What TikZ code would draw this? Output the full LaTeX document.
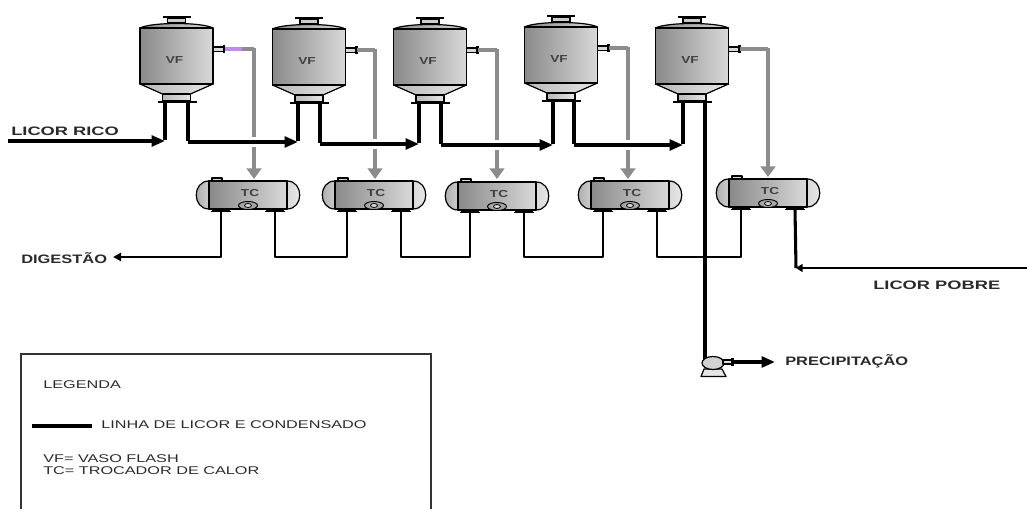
\documentclass[tikz,border=0pt]{standalone}
\usepackage{fontspec}
\setmainfont{Liberation Sans}
\newfontfamily\widebold[FakeStretch=1.34]{Liberation Sans Bold}
\newfontfamily\widerbold[FakeStretch=1.49]{Liberation Sans Bold}
\newfontfamily\widereg[FakeStretch=1.45]{Liberation Sans}
\usetikzlibrary{arrows.meta}
\definecolor{txt}{HTML}{2A2A2A}
\definecolor{pipegray}{HTML}{8C8C8C}
\definecolor{purp}{HTML}{C08CE8}
\tikzset{
  x=0.75pt,y=-0.75pt,
  liq/.style={line width=3.6pt,black,line join=round},
  thin liq/.style={line width=1.9pt,black,line join=round},
  vap/.style={line width=3.4pt,pipegray,line join=round},
  vap thin/.style={line width=2.7pt,pipegray},
  casing/.style={line width=7pt,white},
  head/.style={-{Triangle[length=10pt,width=8pt]}},
  vaphead/.style={-{Triangle[length=8pt,width=11pt]}},
  equip/.style={draw=black,line width=0.9pt,line join=round},
  bodyshade/.style={left color=gray!85!black!80,right color=gray!30},
  lightshade/.style={left color=gray!55,right color=gray!20},
  blab/.style={font=\widebold\fontsize{9.2}{10}\selectfont,text=txt,inner sep=0pt,anchor=west},
  blabw/.style={font=\widerbold\fontsize{9.2}{10}\selectfont,text=txt,inner sep=0pt,anchor=west},
  rlab/.style={font=\widereg\fontsize{8.4}{9.6}\selectfont,text=txt,inner sep=0pt,anchor=west,align=left},
  tag/.style={font=\widebold\fontsize{7.6}{8}\selectfont,text=black!75,inner sep=0pt},
  vessel/.pic={
    \draw[equip,fill=gray!40] (-9,18) rectangle (9,23);
    \draw[black,line width=1.5pt] (-14,17) -- (14,17);
    \draw[equip,bodyshade] (-36.5,28) .. controls (-25,22) and (25,22) .. (36.5,28) -- cycle;
    \draw[equip,lightshade] (-36.5,84) -- (36.5,84) -- (14,94) -- (-14,94) -- cycle;
    \draw[equip,lightshade] (-14,94) rectangle (14,101);
    \draw[equip,bodyshade] (-36.5,28) rectangle (36.5,84);
    \draw[black,line width=2pt] (-19,102) -- (20,102);
    \draw[equip,fill=gray!30] (36.5,47) rectangle (47,51.5);
    \draw[black,line width=2pt] (47.5,45) -- (47.5,53.5);
    \coordinate (-n) at (48,49);
    \node[tag] (-t) at (-2,60) {VF};
  },
  exch/.pic={
    \draw[equip,left color=gray!70,right color=gray!40] (-39,0) .. controls (-56,0) and (-56,28) .. (-39,28) -- cycle;
    \draw[equip,left color=gray!30,right color=gray!15] (39,0) .. controls (56,0) and (56,28) .. (39,28) -- cycle;
    \draw[equip,bodyshade] (-39,0) rectangle (39,28);
    \draw[equip,fill=gray!30] (-36,-3) rectangle (-26,0);
    \draw[equip,fill=gray!40] (-35,28) rectangle (-19,30);
    \draw[equip,fill=gray!40] (19,28) rectangle (35,30);
    \draw[black,line width=1pt] (-37,30.5) -- (-17,30.5) (17,30.5) -- (37,30.5);
    \draw[black,fill=gray!70,line width=0.7pt] (0,24.5) ellipse (9.5 and 4);
    \draw[black,fill=gray!30,line width=0.6pt] (0,24.5) ellipse (3.5 and 2);
    \coordinate (-l) at (-27,30);
    \coordinate (-r) at (27,30);
    \node[tag] (-t) at (2,12) {TC};
  }
}
\begin{document}
\begin{tikzpicture}
\useasboundingbox (0,0) rectangle (1027,509);
\coordinate (b1) at (254,49); \coordinate (b2) at (375,50); \coordinate (b3) at (497,50);
\coordinate (b4) at (628,48); \coordinate (b5) at (768,49);
% equipment
\pic (v1) at (176.5,0) {vessel};
\pic (v2) at (309,1) {vessel};
\pic (v3) at (430,1) {vessel};
\pic (v4) at (561,-1) {vessel};
\pic (v5) at (692,0) {vessel};
\pic (t1) at (248,181) {exch};
\pic (t2) at (374,181) {exch};
\pic (t3) at (497,182) {exch};
\pic (t4) at (630,181) {exch};
\pic (t5) at (768,179) {exch};
% vessel bottom legs
\coordinate (v1-l) at (165,103); \coordinate (v1-r) at (188,103);
\coordinate (v2-l) at (298,104); \coordinate (v2-r) at (320,104);
\coordinate (v3-l) at (419,104); \coordinate (v3-r) at (441,104);
\coordinate (v4-l) at (553,102); \coordinate (v4-r) at (574,102);
\coordinate (v5-l) at (683,103); \coordinate (v5-r) at (705,103);
% vapour
\draw[vap thin] (v1-n) -- (242,49);
\draw[line width=2.7pt,purp] (v1-n) -- (242,49);
\draw[vap thin] (242,49) -- (b1);
\draw[vap thin] (v2-n) -- (b2);
\draw[vap thin] (v3-n) -- (b3);
\draw[vap thin] (v4-n) -- (b4);
\draw[vap thin] (v5-n) -- (b5);
\draw[vap,vaphead] ([yshift=0.75pt]b1) -- (254,179);
\draw[vap,vaphead] ([yshift=0.75pt]b2) -- (375,179);
\draw[vap,vaphead] ([yshift=0.75pt]b3) -- (497,179);
\draw[vap,vaphead] ([yshift=0.75pt]b4) -- (628,179);
\draw[vap,vaphead] ([yshift=0.75pt]b5) -- (768,177);
% liquor header
\coordinate (rico) at (8,141);
\coordinate (c1) at (165,141);
\coordinate (d1) at (188,142); \coordinate (c2) at (298,142);
\coordinate (d2) at (320,144); \coordinate (c3) at (419,144);
\coordinate (d3) at (441,145); \coordinate (c4) at (553,145);
\coordinate (d4) at (574,145); \coordinate (c5) at (683,145);
\draw[casing] (d1) -- (c2) (d2) -- (c3) (d3) -- (c4) (d4) -- (c5);
\draw[liq] (v1-l) -- ([yshift=1pt]c1);
\draw[liq,head,line width=2.9pt] (rico) -- (c1);
\draw[liq] (v1-r) -- ([yshift=1pt]d1);
\draw[liq,head,line width=2.9pt] (d1) -- (c2);
\draw[liq] (v2-l) -- ([yshift=1pt]c2);
\draw[liq] (v2-r) -- ([yshift=1pt]d2);
\draw[liq,head,line width=2.9pt] (d2) -- (c3);
\draw[liq] (v3-l) -- ([yshift=1pt]c3);
\draw[liq] (v3-r) -- ([yshift=1pt]d3);
\draw[liq,head,line width=2.9pt] (d3) -- (c4);
\draw[liq] (v4-l) -- ([yshift=1pt]c4);
\draw[liq] (v4-r) -- ([yshift=1pt]d4);
\draw[liq,head,line width=2.9pt] (d4) -- (c5);
\draw[liq] (v5-l) -- ([yshift=1pt]c5);
% exchanger tubes
\coordinate (dig) at (113,257);
\draw[thin liq,-{Triangle[length=6pt,width=6pt]}] (t1-l) |- (dig);
\draw[thin liq] (t1-r) -- ++(0,46) -| (t2-l);
\draw[thin liq] (t2-r) -- ++(0,46) -| (t3-l);
\draw[thin liq] (t3-r) -- ++(0,45) -| (t4-l);
\draw[thin liq] (t4-r) -- ++(0,46) -| (t5-l);
\coordinate (pobre) at (1027,268);
\coordinate (e5) at (796,268);
\draw[liq,line width=2.3pt] (t5-r) -- (e5);
\draw[thin liq,line width=1.8pt,-{Triangle[length=5pt,width=6pt]}] (pobre) -- (e5);
% pump
\coordinate (pm) at (713,363);
\coordinate (pout) at (734,362);
\coordinate (ptip) at (775,362);
\draw[liq] (v5-r) -- (705,360);
\draw[equip,fill=gray!20] (704,369) -- (722,369) -- (726,376.5) -- (701,376.5) -- cycle;
\draw[equip,fill=gray!35] (pm) ellipse (11 and 6.5);
\draw[equip,fill=gray!25] (723,360) rectangle (732,364);
\draw[black,line width=1.6pt] (732.5,358) -- (732.5,366);
\draw[liq,head,line width=2.9pt] (pout) -- (ptip);
% labels
\node[blabw] (lrico) at (11,131) {LICOR RICO};
\node[blab] (ldig) at (21,258) {DIGESTÃO};
\node[blabw] (lpob) at (873,285) {LICOR POBRE};
\node[blab] (lpre) at (785,361) {PRECIPITAÇÃO};
% legend
\coordinate (k1) at (21,509); \coordinate (k2) at (21,354);
\coordinate (k3) at (431,354); \coordinate (k4) at (431,509);
\draw[line width=0.9pt,black!80] (k1) -- (k2) -- (k3) -- (k4);
\coordinate (m1) at (32,426); \coordinate (m2) at (92,426);
\draw[liq,line width=2.8pt] (m1) -- (m2);
\node[rlab] (leg) at (43,385) {LEGENDA};
\node[rlab] (lin) at (101,425) {LINHA DE LICOR E CONDENSADO};
\node[rlab] (vf) at (43,464.5) {VF= VASO FLASH\\[-0.6pt]TC= TROCADOR DE CALOR};
\end{tikzpicture}
\end{document}
